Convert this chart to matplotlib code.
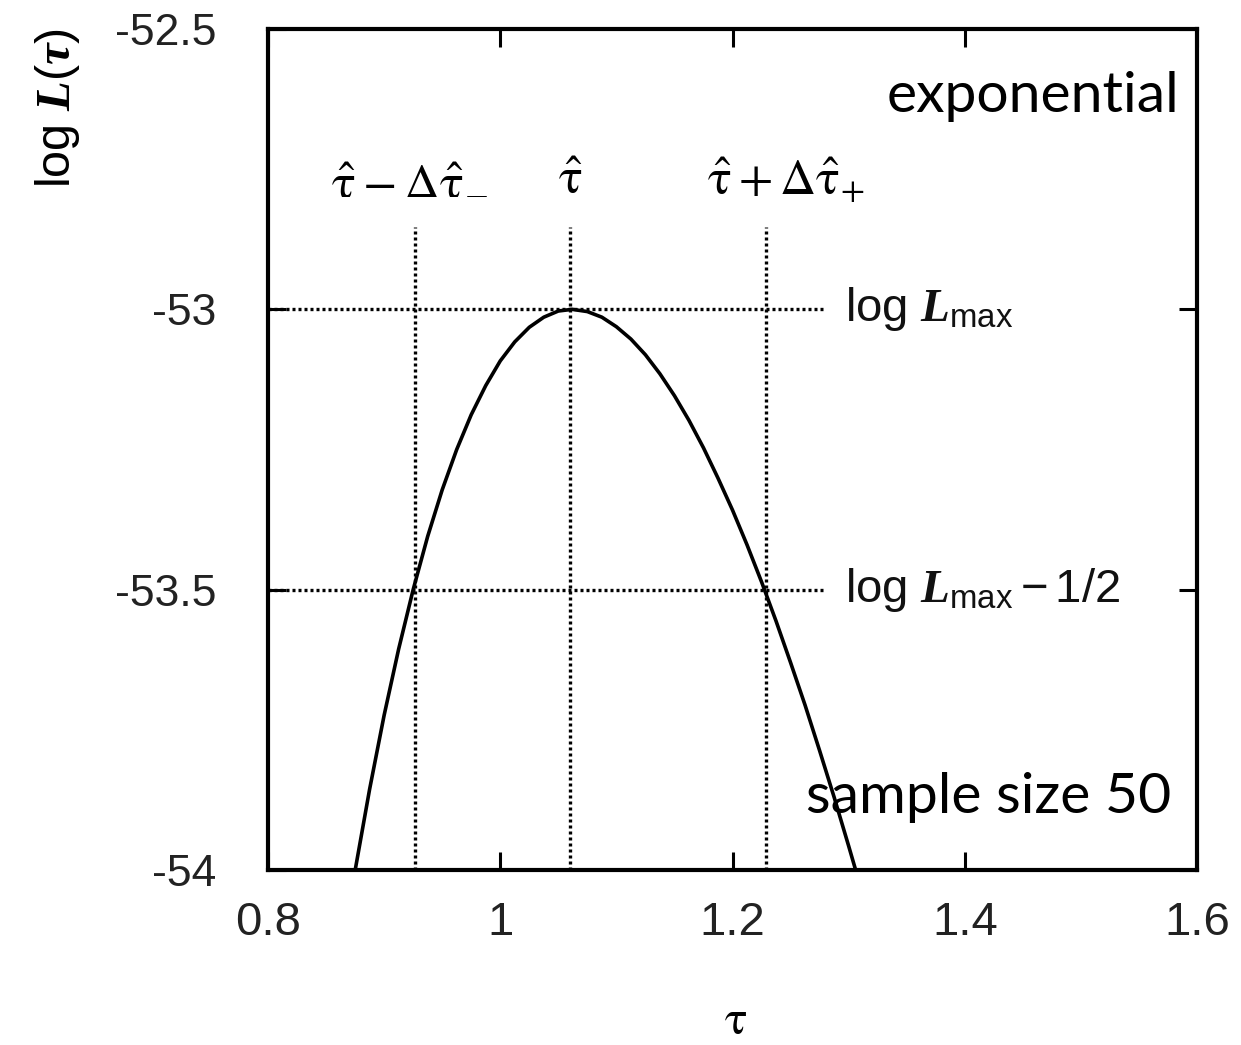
import numpy as np
import matplotlib.pyplot as plt
from matplotlib.ticker import FixedLocator, FixedFormatter

plt.rcParams['axes.unicode_minus'] = False
plt.rcParams['mathtext.fontset'] = 'custom'
plt.rcParams['mathtext.rm'] = 'Liberation Sans'
plt.rcParams['mathtext.it'] = 'Liberation Serif:italic:bold'
plt.rcParams['mathtext.bf'] = 'Liberation Sans:bold'

# log-likelihood curve
tau = [0.870, 0.875, 0.8875, 0.900, 0.9125, 0.925, 0.9375, 0.950, 0.9625, 0.975,
       0.9875, 1.000, 1.0125, 1.025, 1.0375, 1.050, 1.062, 1.075, 1.0875, 1.100,
       1.1125, 1.125, 1.1375, 1.150, 1.1625, 1.175, 1.1875, 1.200, 1.2125, 1.225,
       1.2375, 1.250, 1.2625, 1.275, 1.2875, 1.300, 1.3125]
logL = [-54.064, -54.001, -53.856, -53.724, -53.606, -53.500, -53.405, -53.322, -53.250, -53.188,
        -53.136, -53.092, -53.058, -53.032, -53.014, -53.003, -53.000, -53.004, -53.014, -53.031,
        -53.053, -53.081, -53.115, -53.154, -53.198, -53.247, -53.301, -53.358, -53.420, -53.486,
        -53.556, -53.630, -53.706, -53.787, -53.870, -53.957, -54.046]

tau_lo, tau_hat, tau_hi = 0.9266, 1.060, 1.2289
logL_max = -53.0
logL_half = -53.5
line_top = -52.853
line_end = 1.278

xticks = [0.8, 1.0, 1.2, 1.4, 1.6]
xlabels = ['0.8', '1', '1.2', '1.4', '1.6']
yticks = [-52.5, -53, -53.5, -54]
ylabels = ['-52.5', '-53', '-53.5', '-54']

fig = plt.figure(figsize=(12.41, 10.45), dpi=100)
ax = fig.add_axes([268 / 1241, 1 - 870 / 1045, 929 / 1241, 841 / 1045])

ax.plot(tau, logL, color='black', lw=2.6)

dot = (0, (0.9, 0.9))
for t in [tau_lo, tau_hat, tau_hi]:
    ax.plot([t, t], [-54, line_top], color='black', lw=2.4, linestyle=dot)
for v in [logL_max, logL_half]:
    ax.plot([0.8, line_end], [v, v], color='black', lw=2.4, linestyle=dot)

ax.set_xlim(0.8, 1.6)
ax.set_ylim(-54, -52.5)
ax.xaxis.set_major_locator(FixedLocator(xticks))
ax.xaxis.set_major_formatter(FixedFormatter(xlabels))
ax.yaxis.set_major_locator(FixedLocator(yticks))
ax.yaxis.set_major_formatter(FixedFormatter(ylabels))
ax.tick_params(direction='in', length=13, width=2.2, top=True, right=True)
ax.tick_params(axis='x', labelsize=34, pad=22)
ax.tick_params(axis='y', labelsize=32, pad=37)
for lab in ax.get_xticklabels() + ax.get_yticklabels():
    lab.set_family('Liberation Sans')
    lab.set_color('#222222')
for s in ax.spines.values():
    s.set_linewidth(3)

tf = dict(fontsize=36, ha='center', va='center', color='black', math_fontfamily='stix')
ax.text(0.9215, -52.77, r'$\hat{\mathrm{\tau}} - \Delta\hat{\mathrm{\tau}}_{-}$', **tf)
ax.text(tau_hat, -52.77, r'$\hat{\mathrm{\tau}}$', **tf)
ax.text(1.2455, -52.77, r'$\hat{\mathrm{\tau}} + \Delta\hat{\mathrm{\tau}}_{+}$', **tf)

lf = dict(fontsize=34, ha='left', va='center', color='#111111')
ax.text(1.297, -53.0, r'$\mathrm{log}\ L_{\mathrm{max}}$', **lf)
ax.text(1.297, -53.5, r'$\mathrm{log}\ L_{\mathrm{max}} - \mathrm{1/2}$', **lf)

ax.text(1.585, -52.62, 'exponential', fontsize=41, family='Lato',
        ha='right', va='center')
ax.text(1.578, -53.87, 'sample size 50', fontsize=41, family='Lato',
        ha='right', va='center')

fig.text(58 / 1241, 1 - 108 / 1045, r'$\mathrm{log}\ L(\tau)$', fontsize=35,
         rotation=90, ha='center', va='center')
fig.text(735 / 1241, 1 - 1022 / 1045, r'$\mathrm{\tau}$', fontsize=34,
         ha='center', va='center', math_fontfamily='stix')

fig.savefig('out.png', dpi=100)
